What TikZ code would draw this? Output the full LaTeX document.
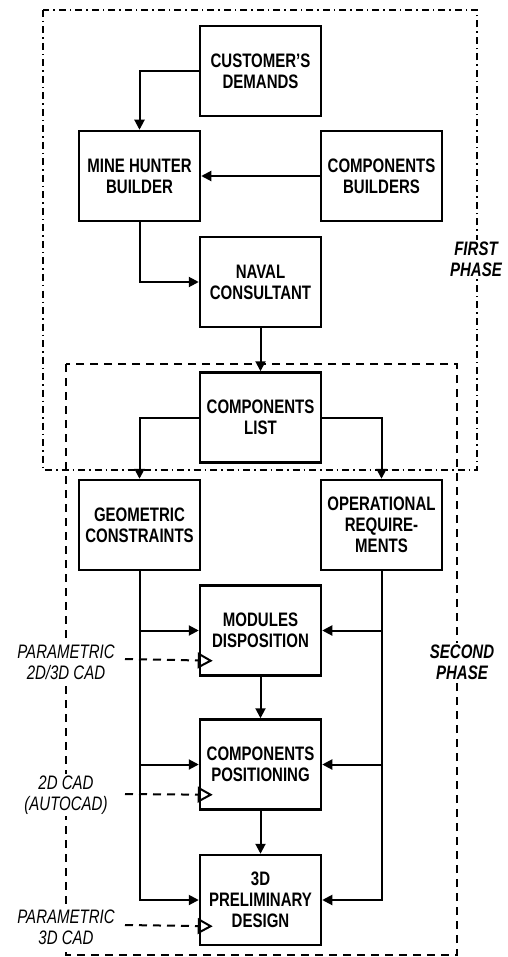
\documentclass[tikz,border=0pt]{standalone}
\usepackage{fontspec}
\setmainfont{Liberation Sans}[FakeStretch=0.77]
\usetikzlibrary{arrows.meta}
\begin{document}
\begin{tikzpicture}[x=1pt,y=-1pt,
  box/.style={draw,line width=2.5pt,minimum width=121pt,minimum height=90pt,inner sep=0pt,align=center,font=\fontsize{19.5}{21}\selectfont\bfseries},
  arr/.style={line width=2pt,-{Triangle[length=10pt,width=10pt]}},
  cad/.style={line width=2pt,dash pattern=on 8pt off 6pt,-{Triangle[open,length=15pt,width=16pt,line width=2pt]}},
  cadlab/.style={fill=white,inner sep=2pt,align=center,font=\fontsize{19.5}{21}\selectfont\itshape},
  phaselab/.style={fill=white,inner sep=2pt,align=center,font=\fontsize{19.5}{21}\selectfont\bfseries\itshape},
  ph1/.style={line width=1.3pt,dash pattern=on 7pt off 4pt on 1.5pt off 4pt},
  ph2/.style={line width=1.3pt,dash pattern=on 8pt off 6pt}]
\useasboundingbox (0,0) rectangle (507,957);
% phase frames
\draw[ph1] (43,10) rectangle (477,470);
\draw[ph2] (66,364) rectangle (457,955);
% boxes
\node[box] (cd)  at (260.5,71)  {CUSTOMER'S\\DEMANDS};
\node[box] (mhb) at (139.5,176) {MINE HUNTER\\BUILDER};
\node[box] (cb)  at (381.5,176) {COMPONENTS\\BUILDERS};
\node[box] (nc)  at (260.5,282) {NAVAL\\CONSULTANT};
\node[box] (cl)  at (260.5,417.5) {COMPONENTS\\LIST};
\node[box] (gc)  at (139.5,525) {GEOMETRIC\\CONSTRAINTS};
\node[box] (opr) at (381.5,525) {OPERATIONAL\\REQUIRE-\\MENTS};
\node[box] (md)  at (260.5,630.5) {MODULES\\DISPOSITION};
\node[box] (cp)  at (260.5,764.5) {COMPONENTS\\POSITIONING};
\node[box] (pd)  at (260.5,900) {3D\\PRELIMINARY\\DESIGN};
% phase labels
\node[phaselab] (fp) at (476,259) {FIRST\\PHASE};
\node[phaselab] (sp) at (462,662) {SECOND\\PHASE};
% cad labels
\node[cadlab] (l1) at (66,662) {PARAMETRIC\\2D/3D CAD};
\node[cadlab] (l2) at (66,795) {2D CAD\\(AUTOCAD)};
\node[cadlab] (l3) at (66,927) {PARAMETRIC\\3D CAD};
% connectors
\draw[arr] (cd.west) -| (mhb.north);
\draw[arr] (cb.west) -- (mhb.east);
\draw[arr] (mhb.south) |- (nc.west);
\draw[arr] (nc.south) -- (cl.north);
\draw[arr] (cl.west) -| (gc.north);
\draw[arr] (cl.east) -| (opr.north);
\draw[arr] (gc.south) |- (md.west);
\draw[arr] (gc.south) |- (cp.west);
\draw[arr] (gc.south) |- (pd.west);
\draw[arr] (opr.south) |- (md.east);
\draw[arr] (opr.south) |- (cp.east);
\draw[arr] (opr.south) |- (pd.east);
\draw[arr] (md.south) -- (cp.north);
\draw[arr] (cp.south) -- (pd.north);
% CAD dashed arrows
\coordinate (s1) at (125,659);
\coordinate (s2) at (125,794);
\coordinate (s3) at (125,925);
\draw[cad] (s1) -- ([shift={(14pt,16pt)}]md.south west);
\draw[cad] (s2) -- ([shift={(14pt,16pt)}]cp.south west);
\draw[cad] (s3) -- ([shift={(14pt,20pt)}]pd.south west);
\end{tikzpicture}
\end{document}
